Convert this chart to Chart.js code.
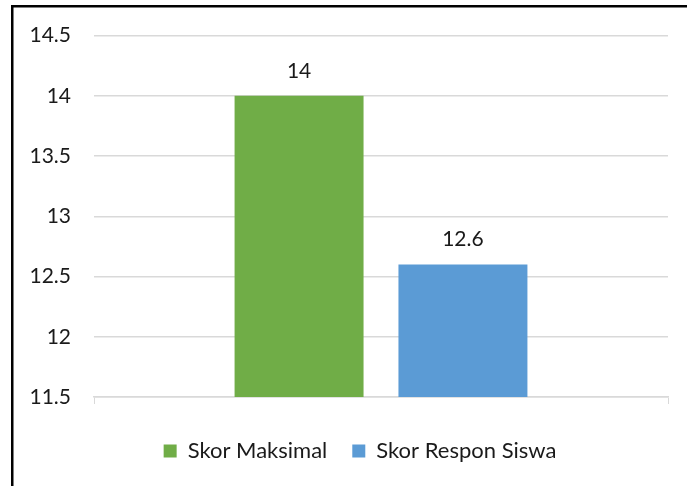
<!DOCTYPE html>
<html>
<head>
<meta charset="utf-8">
<script src="https://cdn.jsdelivr.net/npm/chart.js@4.4.1/dist/chart.umd.min.js"></script>
<style>
  html, body { margin: 0; padding: 0; background: #fff; overflow: hidden; }
  #wrap { width: 687px; height: 486px; position: relative; }
</style>
</head>
<body>
<div id="wrap"><canvas id="myChart" width="687" height="486"></canvas></div>
<script>
// data
const categories = [""];
const seriesNames = ["Skor Maksimal", "Skor Respon Siswa"];
const skorMaksimal = [14];
const skorResponSiswa = [12.6];
const yMin = 11.5;
const yMax = 14.5;
const yStep = 0.5;

const colors = ["#70AD47", "#5B9BD5"];
const fontFamily = "Lato, 'Open Sans', sans-serif";
const fontSize = 21;
const legendFontSize = 22;

// frame (only top and left edges show in the picture) + value labels
const extras = {
    id: "extras",
    afterLayout(chart) {
        // legend in the picture sits a bit right of centre
        if (chart.legend) {
            chart.legend.left += 26;
            chart.legend.right += 26;
        }
    },
    afterDraw(chart) {
        const ctx = chart.ctx;
        ctx.save();
        ctx.fillStyle = "#000";
        ctx.fillRect(11, 5, 700, 2.5);
        ctx.fillRect(11, 5, 2.5, 500);

        ctx.font = fontSize + "px " + fontFamily;
        ctx.fillStyle = "#1a1a1a";
        ctx.textAlign = "center";
        ctx.textBaseline = "middle";
        chart.data.datasets.forEach((ds, i) => {
            const meta = chart.getDatasetMeta(i);
            meta.data.forEach((bar, j) => {
                ctx.fillText(String(ds.data[j]), bar.x, bar.y - 25);
            });
        });
        ctx.restore();
    },
};

const ctx = document.getElementById("myChart");

new Chart(ctx, {
    type: "bar",
    data: {
        labels: categories,
        datasets: [
            {
                label: seriesNames[0],
                data: skorMaksimal,
                backgroundColor: colors[0],
                categoryPercentage: 0.571,
                barPercentage: 0.787,
            },
            {
                label: seriesNames[1],
                data: skorResponSiswa,
                backgroundColor: colors[1],
                categoryPercentage: 0.571,
                barPercentage: 0.787,
            },
        ],
    },
    options: {
        responsive: false,
        animation: false,
        layout: {
            padding: { top: 35, right: 19, bottom: 14, left: 0 },
        },
        plugins: {
            legend: {
                position: "bottom",
                labels: {
                    boxWidth: 13,
                    boxHeight: 13,
                    padding: 25,
                    color: "#1a1a1a",
                    font: { family: fontFamily, size: legendFontSize },
                },
            },
            tooltip: { enabled: false },
        },
        scales: {
            x: {
                grid: {
                    display: true,
                    drawOnChartArea: false,
                    drawTicks: true,
                    tickLength: 7,
                    color: "#d9d9d9",
                    offset: true,
                },
                border: { color: "#d9d9d9", width: 1.5 },
                ticks: { display: false },
                afterFit(scale) {
                    scale.height = 18;
                },
            },
            y: {
                min: yMin,
                max: yMax,
                ticks: {
                    stepSize: yStep,
                    padding: 23,
                    color: "#1a1a1a",
                    font: { family: fontFamily, size: fontSize },
                    callback: (v) => String(Math.round(v * 10) / 10),
                },
                grid: {
                    color: "#d9d9d9",
                    lineWidth: 1.5,
                    drawTicks: false,
                },
                border: { display: false },
                afterFit(scale) {
                    scale.width = 94;
                },
            },
        },
    },
    plugins: [extras],
});
</script>
</body>
</html>
